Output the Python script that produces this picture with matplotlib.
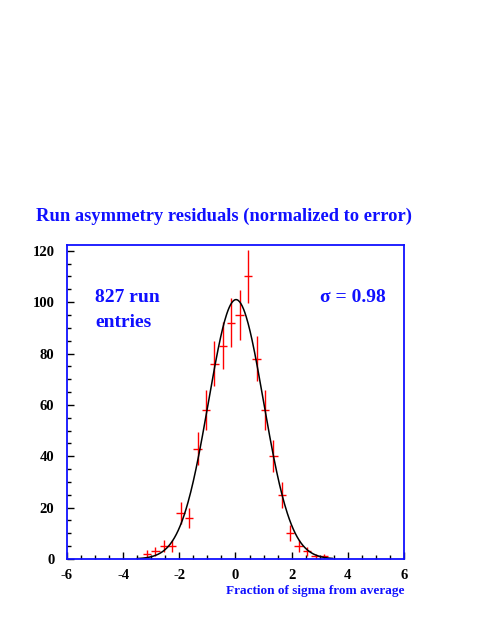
import matplotlib.pyplot as plt
import numpy as np

# Histogram of residuals (bin width 0.3)
bin_centers = [-3.15, -2.85, -2.55, -2.25, -1.95, -1.65, -1.35, -1.05, -0.75, -0.45, -0.15,
               0.15, 0.45, 0.75, 1.05, 1.35, 1.65, 1.95, 2.25, 2.55, 2.85, 3.15]
counts = [2, 3, 5, 5, 18, 16, 43, 58, 76, 83, 92,
          95, 110, 78, 58, 40, 25, 10, 5, 3, 1, 1]
bin_width = 0.3

# Gaussian fit parameters
fit_mean = 0.02
fit_sigma = 0.98
n_entries = 827

blue = '#1010ff'
serif = ['Liberation Serif', 'DejaVu Serif']
plt.rcParams['axes.unicode_minus'] = False

fig = plt.figure(figsize=(4.85, 6.27), dpi=100)
ax = fig.add_axes([0.138, 0.1085, 0.695, 0.5005])

counts_arr = np.array(counts, dtype=float)
ax.errorbar(bin_centers, counts, xerr=bin_width / 2, yerr=np.sqrt(counts_arr),
            fmt='none', ecolor='red', elinewidth=1.0, capsize=0)

xf = np.linspace(-3.5, 3.45, 300)
amp = n_entries * bin_width / (fit_sigma * np.sqrt(2 * np.pi))
ax.plot(xf, amp * np.exp(-0.5 * ((xf - fit_mean) / fit_sigma) ** 2),
        color='black', lw=1.1)

ax.set_xlim(-6, 6)
ax.set_ylim(0, 122.2)
ax.set_xticks(np.arange(-6, 7, 2))
ax.set_xticks(np.arange(-6, 6.01, 0.5), minor=True)
ax.set_yticks(np.arange(0, 121, 20))
ax.set_yticks(np.arange(0, 121, 5), minor=True)
ax.tick_params(direction='in', which='both', top=False, right=False, color='black')
ax.tick_params(which='major', length=5, width=1)
ax.tick_params(which='minor', length=3, width=1)
ax.tick_params(axis='x', pad=7)
ax.tick_params(axis='y', pad=9)
for lab in ax.get_xticklabels() + ax.get_yticklabels():
    lab.set_family(serif)
    lab.set_fontweight('bold')
    lab.set_fontsize(10.5)

for sp in ax.spines.values():
    sp.set_color(blue)
    sp.set_linewidth(1.3)

fig.text(0.462, 0.655, 'Run asymmetry residuals (normalized to error)',
         ha='center', va='center', color=blue, family=serif,
         fontweight='bold', fontsize=13.3)
fig.text(0.833, 0.057, 'Fraction of sigma from average', ha='right', va='center',
         color=blue, family=serif, fontweight='bold', fontsize=9.5)

fig.text(0.196, 0.526, '827 run', ha='left', va='center', color=blue,
         family=serif, fontweight='bold', fontsize=14)
fig.text(0.196, 0.485, 'entries', ha='left', va='center', color=blue,
         family=serif, fontweight='bold', fontsize=14)
fig.text(0.66, 0.526, '\u03c3 = 0.98', ha='left', va='center', color=blue,
         family=serif, fontweight='bold', fontsize=14)

fig.savefig('out.png', dpi=100)
